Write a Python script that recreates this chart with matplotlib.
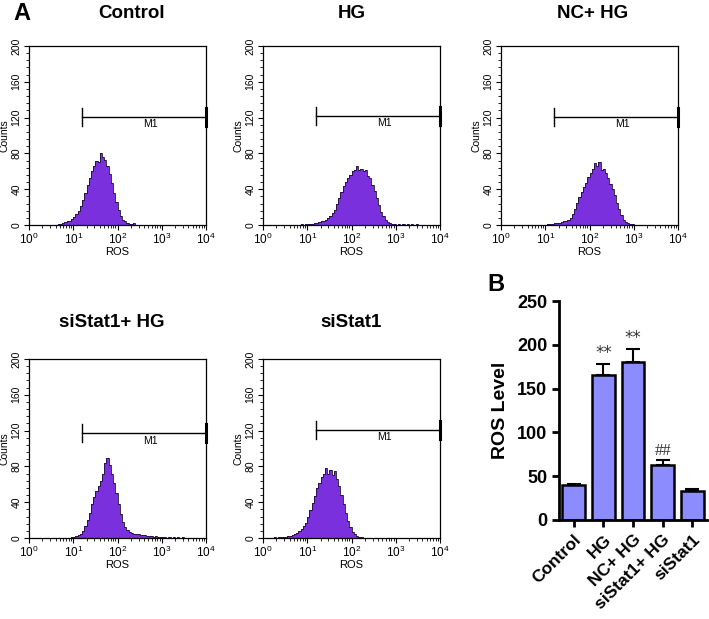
import matplotlib
matplotlib.use("Agg")
import matplotlib.pyplot as plt
from matplotlib.ticker import MultipleLocator, LogLocator, NullFormatter
import numpy as np

plt.rcParams['font.family'] = ['Liberation Sans', 'DejaVu Sans']
plt.rcParams['mathtext.default'] = 'regular'

# histogram bins, log10 of ROS intensity (left edges 0.20 .. 3.45, step 0.05)
log_edges = np.round(np.arange(0.20, 3.5001, 0.05), 2)

control_counts = [0, 0, 0, 0, 0, 0,
                  0, 0, 0, 1, 1, 2, 3, 4, 5, 7,
                  9, 12, 16, 21, 28, 36, 45, 53, 60, 66,
                  72, 70, 80, 76, 73, 66, 57, 47, 36, 26,
                  17, 10, 6, 4, 2, 1, 1, 2, 0, 0,
                  0, 0, 0, 0, 0, 0, 0, 0, 0, 0,
                  0, 0, 0, 0, 0, 0, 0, 0, 0, 0]
hg_counts = [0, 0, 0, 0, 0, 0,
             0, 0, 0, 0, 0, 0, 0, 1, 0, 1,
             1, 1, 1, 2, 2, 3, 4, 5, 6, 8,
             10, 13, 17, 23, 30, 37, 44, 48, 52, 56,
             60, 61, 66, 62, 63, 60, 61, 55, 52, 45,
             38, 30, 22, 15, 10, 6, 3, 2, 1, 1,
             0, 1, 0, 1, 0, 1, 0, 1, 0, 1]
nc_hg_counts = [0, 0, 0, 0, 0, 0,
                0, 0, 0, 0, 0, 0, 0, 0, 0, 0,
                0, 1, 1, 1, 2, 2, 2, 3, 4, 5,
                6, 8, 12, 18, 25, 31, 37, 42, 47, 54,
                58, 63, 69, 66, 70, 61, 63, 58, 52, 46,
                40, 33, 25, 18, 11, 6, 3, 2, 1, 1,
                0, 0, 0, 0, 0, 0, 0, 0, 0, 0]
sistat1_hg_counts = [0, 0, 0, 0, 0, 0,
                     0, 0, 0, 0, 0, 0, 0, 0, 0, 1,
                     1, 2, 3, 5, 8, 13, 20, 28, 38, 46,
                     52, 58, 64, 72, 84, 89, 82, 72, 62, 50,
                     38, 27, 18, 12, 9, 7, 6, 5, 4, 4,
                     3, 3, 3, 2, 2, 2, 1, 2, 1, 1,
                     1, 1, 0, 1, 0, 1, 0, 1, 0, 1]
sistat1_counts = [0, 1, 0, 1, 1, 1,
                  1, 2, 2, 3, 5, 6, 8, 10, 13, 17,
                  23, 31, 39, 47, 56, 62, 68, 72, 78, 72,
                  76, 70, 75, 66, 58, 48, 38, 28, 19, 12,
                  7, 4, 2, 1, 1, 0, 0, 0, 0, 0,
                  0, 0, 0, 0, 0, 0, 0, 0, 0, 0,
                  0, 0, 0, 0, 0, 0, 0, 0, 0, 0]

panel_titles = ['Control', 'HG', 'NC+ HG', 'siStat1+ HG', 'siStat1']
panel_counts = [control_counts, hg_counts, nc_hg_counts, sistat1_hg_counts, sistat1_counts]
m1_level = [121, 122, 121, 117, 121]
m1_start = 16

# bar chart (panel B)
groups = ['Control', 'HG', 'NC+ HG', 'siStat1+ HG', 'siStat1']
ros_level = [40, 165, 180, 63, 33]
ros_err = [1, 13, 15, 5, 2]
marks = ['', '**', '**', '##', '']

purple = '#7a30dc'
bar_color = '#8c8cff'

fig = plt.figure(figsize=(7.09, 6.19), dpi=100)
W, H = 709, 619


def px_axes(x0, y0, x1, y1):
    return fig.add_axes([x0 / W, 1 - y1 / H, (x1 - x0) / W, (y1 - y0) / H])


boxes = [(29, 46, 206, 225), (263, 46, 440, 225), (501, 46, 678, 225),
         (29, 359, 206, 538), (263, 359, 440, 538)]
title_dx = [0.08, 0.0, 0.02, -0.03, 0.0]
title_up = [28, 28, 28, 32, 32]   # px from axes top to title baseline

edges = 10 ** log_edges
for i, (box, title, counts) in enumerate(zip(boxes, panel_titles, panel_counts)):
    ax = px_axes(*box)
    ax.stairs(counts, edges, fill=True, color=purple, lw=0)
    ax.stairs(counts, edges, color='#1a1030', lw=0.6)
    ax.set_xscale('log')
    ax.set_xlim(1, 1e4)
    ax.set_ylim(0, 200)
    ax.xaxis.set_major_locator(LogLocator(base=10, numticks=10))
    ax.xaxis.set_minor_locator(LogLocator(base=10, subs=np.arange(2, 10), numticks=10))
    ax.xaxis.set_minor_formatter(NullFormatter())
    ax.yaxis.set_major_locator(MultipleLocator(40))
    ax.yaxis.set_minor_locator(MultipleLocator(8))
    ax.tick_params(which='major', length=3.5, width=0.8, labelsize=8.5, pad=1.5)
    ax.tick_params(which='minor', length=2, width=0.6)
    ax.tick_params(axis='y', labelsize=7.5, labelrotation=90, pad=2)
    for lab in ax.get_yticklabels():
        lab.set_va('center')
    for sp in ax.spines.values():
        sp.set_linewidth(0.9)
    ax.set_xlabel('ROS', fontsize=8, labelpad=0)
    ax.set_ylabel('Counts', fontsize=7.5, labelpad=1.5)

    # M1 gate
    y = m1_level[i]
    ax.plot([m1_start, 1e4], [y, y], color='black', lw=1.0, clip_on=False)
    ax.plot([m1_start, m1_start], [y - 10, y + 10], color='black', lw=1.0)
    ax.plot([1e4, 1e4], [y - 10, y + 10], color='black', lw=2.2, clip_on=False)
    ax.text(10 ** 2.75, y - 3, 'M1', ha='center', va='top', fontsize=7.5)

    h = box[3] - box[1]
    ax.text(0.5 + title_dx[i], 1.0 + title_up[i] / h, title, transform=ax.transAxes,
            ha='center', va='baseline', fontsize=13.5, fontweight='bold')

fig.text(13 / W, 1 - 20 / H, 'A', fontsize=17, fontweight='bold', ha='left', va='baseline')
fig.text(487 / W, 1 - 291 / H, 'B', fontsize=17, fontweight='bold', ha='left', va='baseline')

# panel B
bx = px_axes(559, 301, 707, 520)
x = np.arange(len(groups))
bx.bar(x, ros_level, width=0.77, color=bar_color, edgecolor='black', linewidth=1.8, zorder=2)
bx.errorbar(x, ros_level, yerr=[np.zeros(len(x)), ros_err], fmt='none', ecolor='black',
            elinewidth=1.5, capsize=5, capthick=1.5, zorder=1)
for xi, v, e, m in zip(x, ros_level, ros_err, marks):
    if m:
        bx.text(xi, v + e + 2, m, ha='center', va='bottom', fontsize=12, color='#333333',
                family=['DejaVu Sans'] if m == '**' else ['Liberation Serif'])
bx.set_xlim(-0.5, 4.5)
bx.set_ylim(0, 250)
bx.yaxis.set_major_locator(MultipleLocator(50))
bx.spines['top'].set_visible(False)
bx.spines['right'].set_visible(False)
bx.spines['left'].set_linewidth(2)
bx.spines['bottom'].set_linewidth(2)
bx.tick_params(length=5, width=2, labelsize=13)
for lab in bx.get_yticklabels():
    lab.set_fontweight('bold')
bx.set_xticks(x)
bx.set_xticklabels(groups, rotation=45, ha='right', rotation_mode='anchor',
                   fontsize=12.5, fontweight='bold')
bx.set_ylabel('ROS Level', fontsize=14, fontweight='bold', labelpad=6)

fig.savefig('out.png', dpi=100)
